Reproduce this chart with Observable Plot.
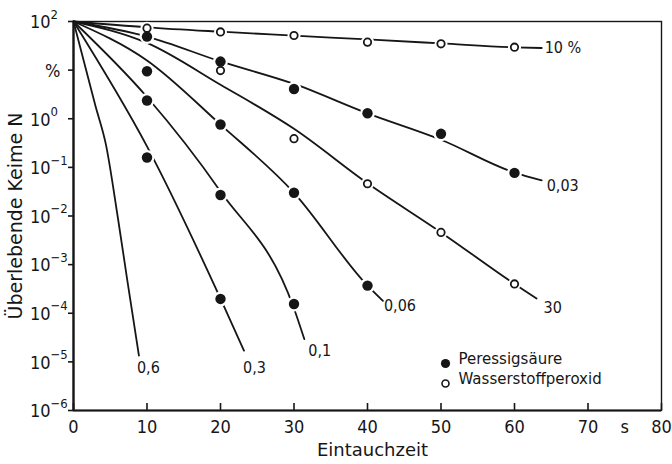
<!DOCTYPE html>
<html><head><meta charset="utf-8">
<script src="https://cdn.jsdelivr.net/npm/d3@7"></script>
<script src="https://cdn.jsdelivr.net/npm/@observablehq/plot@0.6"></script>
<style>body{margin:0;background:#fff}#chart{width:672px;height:464px}</style>
</head><body><div id="chart"></div>
<script>
// ---- data: [Eintauchzeit s, überlebende Keime %] ----
// fitted curves
const curve10pct = [[0,100],[10,75.9],[20,61.7],[30,51.3],[40,42.7],[50,35.5],[60,29.5],[63.7,28.5]];
const curve30    = [[0,100],[10,36.3],[20,5.0],[30,0.62],[40,0.047],[50,0.0046],[60,4.0e-4],[63,2.0e-4]];
const curve003   = [[0,100],[10,49],[20,15.1],[30,5.2],[40,1.29],[50,0.37],[60,0.078],[63.7,0.054]];
const curve006   = [[0,100],[10,15.8],[20,0.76],[30,0.030],[40,3.7e-4],[42.1,1.8e-4]];
const curve01    = [[0,100],[10,2.8],[20,0.032],[30,1.25e-4],[31.4,2.95e-5]];
const curve03    = [[0,100],[10,0.27],[20,2.0e-4],[23.2,1.7e-5]];
const curve06    = [[0,100],[3,1.8],[4.4,0.3],[6,0.01],[7.3,5e-4],[8.9,1.35e-5]];
const curveLabels = ["10 %","30","0,03","0,06","0,1","0,3","0,6"];

// measured points
const peressigsaeure = [ // filled circles
  [10,49],[20,15],[30,4.1],[40,1.3],[50,0.49],[60,0.077],
  [10,9.5],[20,0.76],[30,0.030],[40,3.7e-4],
  [10,2.37],[20,0.027],[30,1.55e-4],
  [10,0.16],[20,1.97e-4]
];
const wasserstoffperoxid = [ // open circles
  [10,73],[20,61],[30,51.5],[40,37.6],[50,34.8],[60,29.6],
  [20,9.8],[30,0.39],[40,0.046],[50,0.0046],[60,4.0e-4]
];
const legendLabels = ["Peressigsäure","Wasserstoffperoxid"];

// axes
const xTicks = [0,10,20,30,40,50,60,70,80];
const xLabelValues = [0,10,20,30,40,50,60,70,75,80];
const xLabelTexts  = ["0","10","20","30","40","50","60","70","s","80"];
const yTicks   = [1e2,1e1,1e0,1e-1,1e-2,1e-3,1e-4,1e-5,1e-6];
const yBase    = ["10","%","10","10","10","10","10","10","10"];
const yExp     = ["2","","0","−1","−2","−3","−4","−5","−6"];
const xTitle = "Eintauchzeit";
const yTitle = "Überlebende Keime N";

// ---- build ----
const INK = "#161616";
const FONT = "'DejaVu Sans', sans-serif";
const FONTC = "'DejaVu Sans Condensed', 'DejaVu Sans', sans-serif";
const curves = [curve10pct, curve30, curve003, curve006, curve01, curve03, curve06];
const lineData = curves.flatMap((c, k) => c.map(([t, n]) => ({curve: curveLabels[k], t, n})));
const filled = peressigsaeure.map(([t, n]) => ({t, n}));
const open = wasserstoffperoxid.map(([t, n]) => ({t, n}));
const labelOffsets = [[3,0],[7,9],[5,5],[1,5],[4,12],[-1,17],[-2,12]];

const labelMarks = curves.map((c, k) => {
  const last = c[c.length - 1];
  return Plot.text([{t: last[0], n: last[1], s: curveLabels[k]}], {
    x: "t", y: "n", text: "s", textAnchor: "start",
    dx: labelOffsets[k][0], dy: labelOffsets[k][1],
    fontSize: 16, fontFamily: FONTC, fill: INK
  });
});

const yIdxExp = yTicks.map((d, i) => i).filter(i => yExp[i] !== "");
const yIdxPlain = yTicks.map((d, i) => i).filter(i => yExp[i] === "");

const chart = Plot.plot({
  width: 672, height: 464,
  marginLeft: 73, marginRight: 11, marginTop: 21, marginBottom: 54,
  x: {domain: [0, 80], axis: null},
  y: {type: "log", domain: [1e-6, 100], axis: null},
  style: {background: "white", color: INK, fontFamily: FONT},
  marks: [
    Plot.frame({stroke: INK, strokeWidth: 1.4}),
    Plot.ruleX([0], {stroke: INK, strokeWidth: 2.3}),
    Plot.ruleY([1e-6], {stroke: INK, strokeWidth: 2.2}),
    Plot.tickX(xTicks, {x: d => d, insetTop: 382, stroke: INK, strokeWidth: 1.6}),
    Plot.tickY(yTicks, {y: d => d, insetRight: 583, dx: -5, stroke: INK, strokeWidth: 1.6}),
    // x labels
    Plot.text(xLabelValues, {x: d => d, frameAnchor: "bottom", text: (d, i) => xLabelTexts[i],
      textAnchor: "middle", dy: 22, fontSize: 18, fontFamily: FONTC, fill: INK}),
    // y labels
    Plot.text(yIdxExp, {y: i => yTicks[i], frameAnchor: "left", text: i => yBase[i],
      textAnchor: "end", dx: -23, dy: 1, fontSize: 18, fontFamily: FONTC, fill: INK}),
    Plot.text(yIdxExp, {y: i => yTicks[i], frameAnchor: "left", text: i => yExp[i],
      textAnchor: "start", dx: -23, dy: -7, fontSize: 13, fontFamily: FONTC, fill: INK}),
    Plot.text(yIdxPlain, {y: i => yTicks[i], frameAnchor: "left", text: i => yBase[i],
      textAnchor: "end", dx: -13, dy: 1, fontSize: 18, fontFamily: FONTC, fill: INK}),
    // titles
    Plot.text([xTitle], {frameAnchor: "bottom", text: d => d, textAnchor: "middle", dx: 5, dy: 45, fontSize: 18, fontFamily: FONT, fill: INK}),
    Plot.text([yTitle], {frameAnchor: "left", text: d => d, textAnchor: "middle", rotate: -90, dx: -58, fontSize: 19, fontFamily: FONT, fill: INK}),
    // curves
    Plot.line(lineData, {x: "t", y: "n", z: "curve", curve: "monotone-x", stroke: INK, strokeWidth: 1.8}),
    // gaps around markers
    Plot.dot(filled, {x: "t", y: "n", r: 7.5, fill: "white"}),
    Plot.dot(open, {x: "t", y: "n", r: 6.5, fill: "white"}),
    // markers
    Plot.dot(filled, {x: "t", y: "n", r: 5.2, fill: INK}),
    Plot.dot(open, {x: "t", y: "n", r: 3.7, fill: "white", stroke: INK, strokeWidth: 1.8}),
    ...labelMarks,
    // legend
    Plot.dot([0], {frameAnchor: "bottom-right", dx: -216, dy: -47, r: 4.6, fill: INK}),
    Plot.dot([0], {frameAnchor: "bottom-right", dx: -216, dy: -27, r: 3.5, fill: "white", stroke: INK, strokeWidth: 1.6}),
    Plot.text([legendLabels[0]], {frameAnchor: "bottom-right", text: d => d, textAnchor: "start", dx: -203, dy: -47, fontSize: 15, fontFamily: FONT, fill: INK}),
    Plot.text([legendLabels[1]], {frameAnchor: "bottom-right", text: d => d, textAnchor: "start", dx: -203, dy: -27, fontSize: 15, fontFamily: FONT, fill: INK})
  ]
});
document.getElementById("chart").appendChild(chart);
</script>
</body></html>
